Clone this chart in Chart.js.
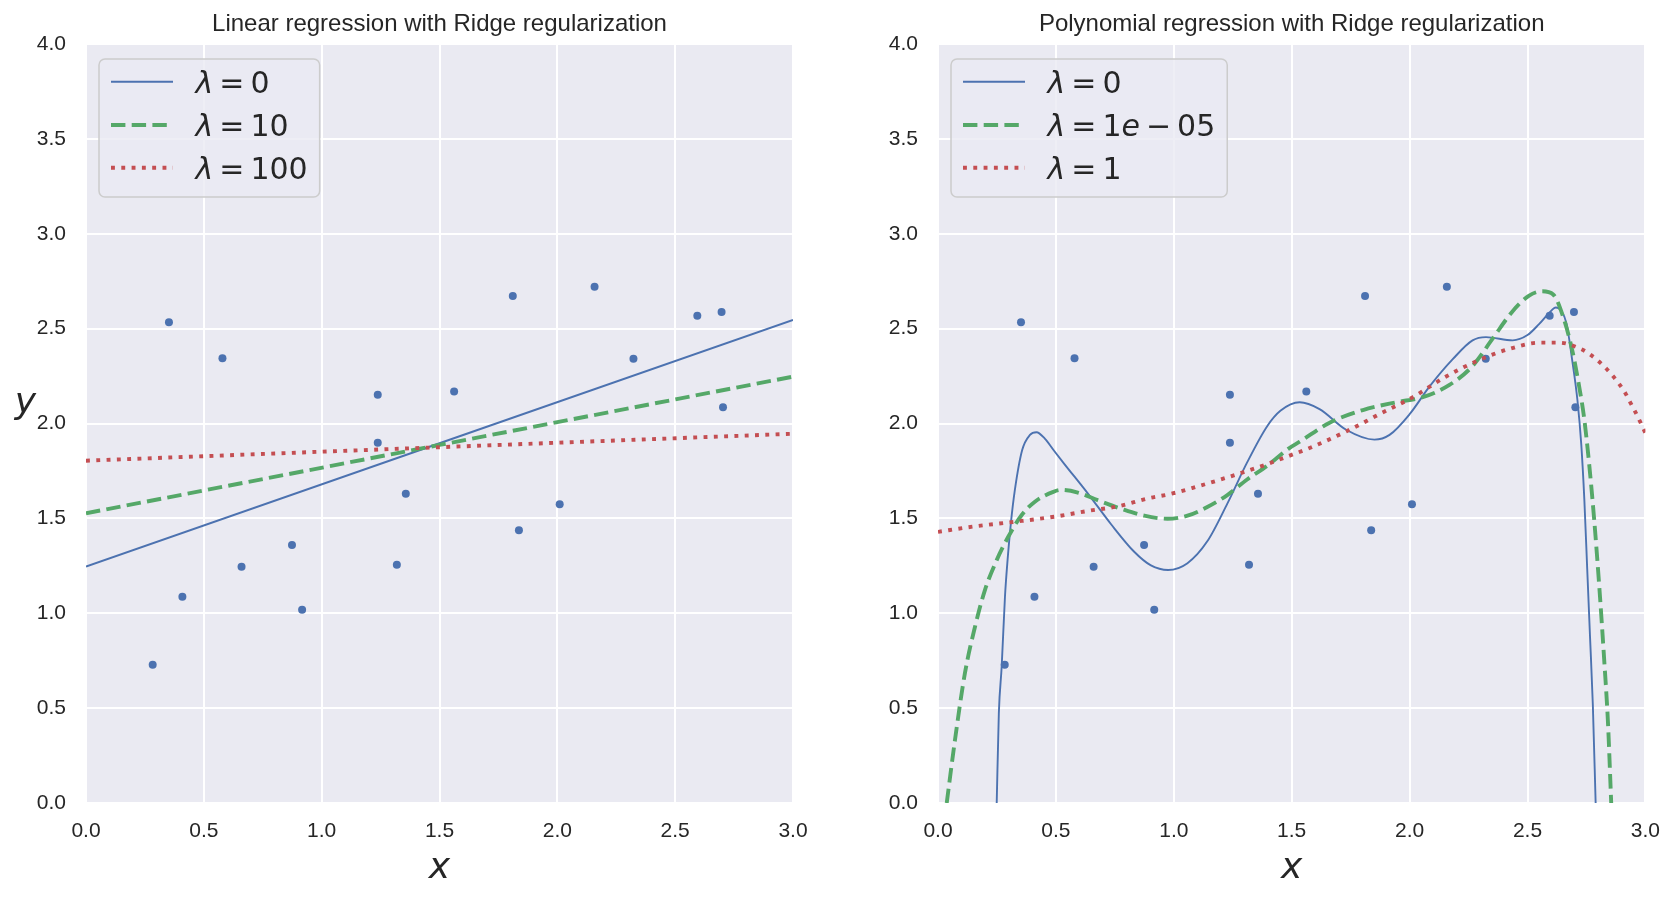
<!DOCTYPE html>
<html><head><meta charset="utf-8">
<script src="https://cdn.jsdelivr.net/npm/chart.js@4/dist/chart.umd.min.js"></script>
<style>
html,body{margin:0;padding:0;background:#fff;width:1676px;height:899px;overflow:hidden}
#c1{position:absolute;left:0;top:0}
#c2{position:absolute;left:838px;top:0}
</style></head><body>
<canvas id="c1" width="838" height="899" style="width:838px;height:899px"></canvas>
<canvas id="c2" width="838" height="899" style="width:838px;height:899px"></canvas>
<script>
// ---------- data ----------
const pointX = [0.283, 0.352, 0.409, 0.579, 0.660, 0.874, 0.917, 1.238, 1.238, 1.319, 1.357, 1.562, 1.811, 1.837, 2.010, 2.158, 2.323, 2.594, 2.697, 2.703];
const pointY = [0.729, 2.534, 1.087, 2.344, 1.245, 1.360, 1.018, 2.151, 1.898, 1.256, 1.630, 2.169, 2.672, 1.437, 1.574, 2.721, 2.341, 2.568, 2.587, 2.085];

// linear model lines
const linX = [0, 1.5, 3];
const linLam0Y = [1.246, 1.896, 2.546];
const linLam10Y = [1.527, 1.887, 2.247];
const linLam100Y = [1.804, 1.875, 1.946];

// polynomial model curves
const polyLam0X = [0.249, 0.258, 0.270, 0.284, 0.295, 0.309, 0.326, 0.357, 0.390, 0.418, 0.453, 0.493, 0.537, 0.635, 0.734, 0.832, 0.903, 0.976, 1.058, 1.142, 1.227, 1.311, 1.396, 1.452, 1.534, 1.618, 1.731, 1.851, 1.915, 2.000, 2.084, 2.183, 2.267, 2.324, 2.437, 2.500, 2.549, 2.592, 2.620, 2.641, 2.665, 2.690, 2.712, 2.728, 2.741, 2.753, 2.765, 2.777, 2.789];
const polyLam0Y = [0.0, 0.473, 0.718, 1.087, 1.280, 1.474, 1.650, 1.860, 1.940, 1.954, 1.920, 1.855, 1.785, 1.632, 1.469, 1.324, 1.252, 1.228, 1.264, 1.379, 1.578, 1.795, 1.986, 2.067, 2.112, 2.076, 1.967, 1.915, 1.940, 2.049, 2.194, 2.339, 2.438, 2.455, 2.438, 2.466, 2.524, 2.583, 2.611, 2.596, 2.529, 2.330, 2.120, 1.890, 1.600, 1.240, 0.880, 0.520, 0.0];

const polyLamSmallX = [0.037, 0.072, 0.114, 0.157, 0.199, 0.249, 0.298, 0.355, 0.411, 0.489, 0.523, 0.593, 0.677, 0.776, 0.875, 0.973, 1.058, 1.142, 1.227, 1.311, 1.396, 1.487, 1.534, 1.661, 1.802, 1.943, 2.056, 2.169, 2.267, 2.352, 2.437, 2.507, 2.563, 2.609, 2.653, 2.689, 2.717, 2.740, 2.762, 2.783, 2.805, 2.826, 2.841, 2.855];
const polyLamSmallY = [0.0, 0.332, 0.683, 0.929, 1.122, 1.280, 1.403, 1.518, 1.588, 1.640, 1.650, 1.636, 1.596, 1.551, 1.514, 1.498, 1.514, 1.560, 1.623, 1.705, 1.777, 1.868, 1.904, 2.004, 2.071, 2.112, 2.139, 2.203, 2.303, 2.447, 2.592, 2.674, 2.697, 2.680, 2.555, 2.390, 2.210, 2.030, 1.780, 1.490, 1.130, 0.740, 0.430, 0.0];

const polyLam1X = [0, 0.156, 0.325, 0.494, 0.649, 0.762, 0.889, 0.987, 1.1, 1.199, 1.311, 1.396, 1.494, 1.576, 1.731, 1.872, 2.014, 2.155, 2.296, 2.423, 2.550, 2.634, 2.726, 2.764, 2.799, 2.832, 2.861, 2.889, 2.914, 2.935, 2.956, 2.976, 3.0];
const polyLam1Y = [1.429, 1.458, 1.482, 1.509, 1.542, 1.563, 1.605, 1.629, 1.668, 1.705, 1.750, 1.786, 1.832, 1.871, 1.958, 2.049, 2.139, 2.248, 2.335, 2.393, 2.426, 2.426, 2.393, 2.365, 2.331, 2.292, 2.252, 2.208, 2.162, 2.113, 2.064, 2.014, 1.950];

const xTicks = [0, 0.5, 1.0, 1.5, 2.0, 2.5, 3.0];
const yTicks = [0, 0.5, 1.0, 1.5, 2.0, 2.5, 3.0, 3.5, 4.0];
const leftLambdas = ['0', '10', '100'];
const rightLambdas = ['0', '1e-05', '1'];
const leftTitle = 'Linear regression with Ridge regularization';
const rightTitle = 'Polynomial regression with Ridge regularization';
const xLabel = 'x';
const yLabel = 'y';

// ---------- styling ----------
const BLUE = '#4C72B0', GREEN = '#55A868', RED = '#C44E52', TXT = '#262626';
const TICKFONT = '"Liberation Sans", Arial, sans-serif';
const MATHFONT = '"DejaVu Sans", sans-serif';

const zip = (xs, ys) => xs.map((x, i) => ({x: x, y: ys[i]}));

const bgPlugin = {
  id: 'bg',
  beforeDraw(chart) {
    const {ctx, chartArea: a} = chart;
    ctx.save();
    ctx.fillStyle = '#ffffff';
    ctx.fillRect(0, 0, chart.width, chart.height);
    ctx.fillStyle = '#EAEAF2';
    ctx.fillRect(a.left, a.top, a.right - a.left, a.bottom - a.top);
    ctx.restore();
  }
};

function segsFor(lam) {
  const out = [{t: 'λ', it: true}, {gap: true}, {t: '='}, {gap: true}];
  const m = lam.match(/^(\d+)e-(\d+)$/);
  if (m) out.push({t: m[1]}, {t: 'e', it: true}, {gap: true}, {t: '−'}, {gap: true}, {t: m[2]});
  else out.push({t: lam});
  return out;
}

const legendPlugin = {
  id: 'mplLegend',
  afterDraw(chart, args, opts) {
    const ctx = chart.ctx, a = chart.chartArea;
    const fs = 30, gap = 0.2 * fs;
    const fontN = fs + 'px ' + MATHFONT, fontI = 'italic ' + fs + 'px ' + MATHFONT;
    const rows = opts.labels.map(segsFor);
    ctx.save();
    const widths = rows.map(segs => segs.reduce((w, s) => {
      if (s.gap) return w + gap;
      ctx.font = s.it ? fontI : fontN;
      return w + ctx.measureText(s.t).width;
    }, 0));
    const textX = a.left + 109.5;
    const boxL = a.left + 13, boxT = a.top + 15, boxB = a.top + 153;
    const boxR = textX + Math.max(...widths) + 12;
    ctx.beginPath();
    ctx.roundRect(boxL, boxT, boxR - boxL, boxB - boxT, 6);
    ctx.fillStyle = 'rgba(234,234,242,0.8)';
    ctx.fill();
    ctx.lineWidth = 1.5;
    ctx.strokeStyle = '#CCCCCC';
    ctx.stroke();
    const rowY = [a.top + 37.7, a.top + 81, a.top + 123.7];
    rows.forEach((segs, i) => {
      const ds = chart.data.datasets[i];
      ctx.save();
      ctx.beginPath();
      ctx.strokeStyle = ds.borderColor;
      ctx.lineWidth = ds.borderWidth;
      ctx.lineCap = 'butt';
      ctx.setLineDash(ds.borderDash || []);
      ctx.moveTo(a.left + 25, rowY[i]);
      ctx.lineTo(a.left + 87, rowY[i]);
      ctx.stroke();
      ctx.restore();
      let x = textX;
      ctx.fillStyle = TXT;
      ctx.textBaseline = 'alphabetic';
      ctx.textAlign = 'left';
      segs.forEach(s => {
        if (s.gap) { x += gap; return; }
        ctx.font = s.it ? fontI : fontN;
        ctx.fillText(s.t, x, rowY[i] + 11);
        x += ctx.measureText(s.t).width;
      });
    });
    ctx.restore();
  }
};

const yLabelPlugin = {
  id: 'yLabel',
  afterDraw(chart, args, opts) {
    if (!opts.text) return;
    const ctx = chart.ctx;
    ctx.save();
    ctx.font = 'italic 36px ' + MATHFONT;
    ctx.fillStyle = TXT;
    ctx.textAlign = 'center';
    ctx.textBaseline = 'alphabetic';
    ctx.fillText(opts.text, 25.5, 413);
    ctx.restore();
  }
};

function makeChart(canvasId, title, lineSets, lambdas, yAxisWidth, rightPad, yText) {
  const styles = [
    {color: BLUE, width: 1.9, dash: []},
    {color: GREEN, width: 3.9, dash: [14.4, 6.3]},
    {color: RED, width: 3.9, dash: [3.9, 6.4]}
  ];
  const orders = [2, 1, 0];
  const datasets = lineSets.map((ls, i) => ({
    label: 'λ = ' + lambdas[i],
    data: zip(ls[0], ls[1]),
    showLine: true,
    pointRadius: 0,
    borderColor: styles[i].color,
    backgroundColor: styles[i].color,
    borderWidth: styles[i].width,
    borderDash: styles[i].dash,
    borderCapStyle: 'butt',
    cubicInterpolationMode: ls[2] ? 'monotone' : 'default',
    tension: 0,
    clip: 0,
    order: orders[i]
  }));
  datasets.push({
    label: 'data',
    data: zip(pointX, pointY),
    pointRadius: 4,
    pointBorderWidth: 0,
    pointBackgroundColor: BLUE,
    backgroundColor: BLUE,
    borderColor: BLUE,
    showLine: false,
    clip: 0,
    order: 3
  });
  return new Chart(document.getElementById(canvasId), {
    type: 'scatter',
    data: {datasets: datasets},
    plugins: [bgPlugin, legendPlugin, yLabelPlugin],
    options: {
      responsive: false,
      animation: false,
      devicePixelRatio: 1,
      events: [],
      layout: {padding: {left: 0, right: rightPad, top: 0, bottom: 0}},
      plugins: {
        legend: {display: false},
        tooltip: {enabled: false},
        title: {
          display: true, text: title, fullSize: false, color: TXT,
          font: {family: TICKFONT, size: 24, weight: 'normal', lineHeight: 1.2},
          padding: {top: 10.1, bottom: 5.1}
        },
        mplLegend: {labels: lambdas},
        yLabel: {text: yText}
      },
      scales: {
        x: {
          type: 'linear', min: 0, max: 3,
          afterBuildTicks: s => { s.ticks = xTicks.map(v => ({value: v})); },
          afterFit: s => { s.height = 96; },
          ticks: {padding: 16, color: TXT, font: {family: TICKFONT, size: 21}, maxRotation: 0, autoSkip: false,
                  callback: v => Number(v).toFixed(1)},
          grid: {color: '#ffffff', lineWidth: 2, drawTicks: false},
          border: {display: false},
          title: {display: true, text: xLabel, color: TXT, font: {family: MATHFONT, size: 36, style: 'italic', lineHeight: 1.2},
                  padding: {top: 0, bottom: 9}}
        },
        y: {
          type: 'linear', min: 0, max: 4,
          afterBuildTicks: s => { s.ticks = yTicks.map(v => ({value: v})); },
          afterFit: s => { s.width = yAxisWidth; },
          ticks: {padding: 20, color: TXT, font: {family: TICKFONT, size: 21}, autoSkip: false,
                  callback: v => Number(v).toFixed(1)},
          grid: {color: '#ffffff', lineWidth: 2, drawTicks: false},
          border: {display: false}
        }
      }
    }
  });
}

makeChart('c1', leftTitle,
  [[linX, linLam0Y, false], [linX, linLam10Y, false], [linX, linLam100Y, false]],
  leftLambdas, 86, 45, yLabel);
makeChart('c2', rightTitle,
  [[polyLam0X, polyLam0Y, true], [polyLamSmallX, polyLamSmallY, true], [polyLam1X, polyLam1Y, true]],
  rightLambdas, 100, 30, '');
</script>
</body></html>
